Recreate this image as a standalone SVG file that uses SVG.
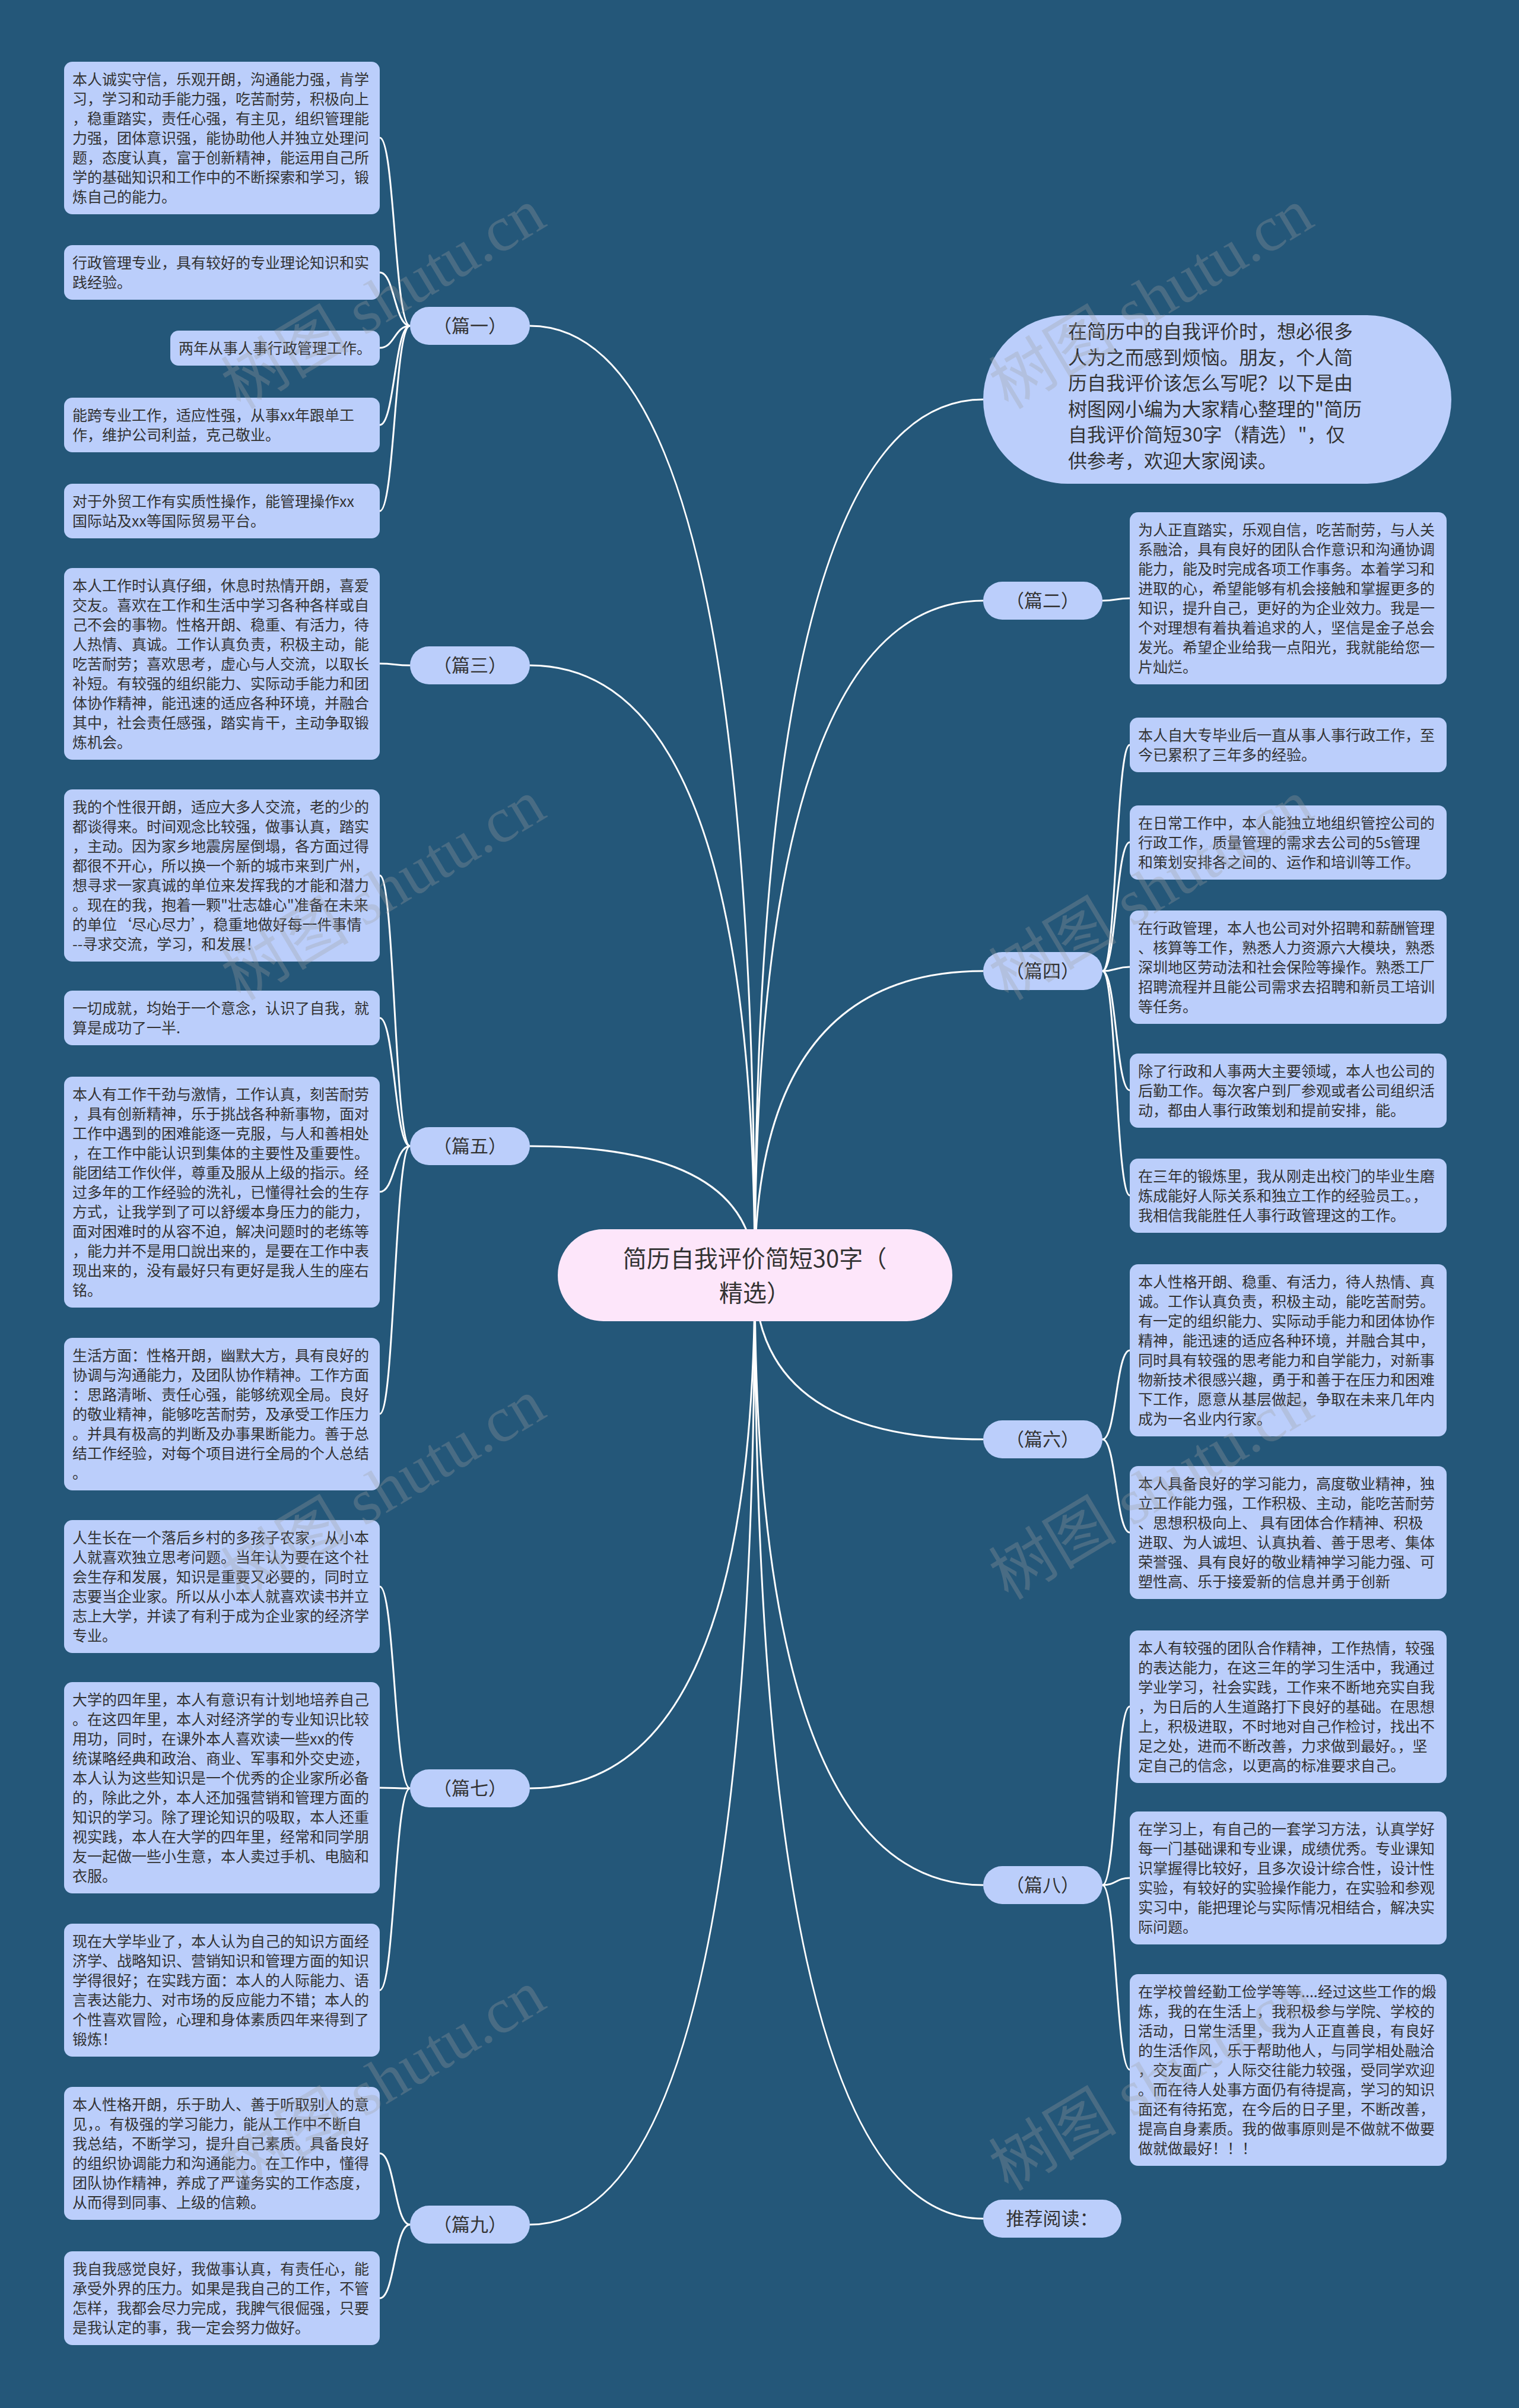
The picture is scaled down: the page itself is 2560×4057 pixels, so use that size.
<svg xmlns="http://www.w3.org/2000/svg" width="2560" height="4057" viewBox="0 0 2560 4057">
<style>
.bg{fill:#245779}
.box{fill:#bbcefb}
.lbl{fill:#bbcefb}
.t{font-family:"Noto Sans CJK SC","Noto Sans",sans-serif;font-size:25px;fill:#333}
.lt{font-family:"Noto Sans CJK SC","Noto Sans",sans-serif;font-size:31px;fill:#333;text-anchor:middle}
.ct{font-family:"Noto Sans CJK SC","Noto Sans",sans-serif;font-size:40px;fill:#333;text-anchor:middle}
.it{font-family:"Noto Sans CJK SC","Noto Sans",sans-serif;font-size:32px;fill:#333}
.c{fill:none;stroke:#ffffff;stroke-width:3}
.wm{font-family:"Liberation Serif","Noto Sans CJK SC",serif;font-size:108px;fill:#a0a0a0;fill-opacity:0.3;text-anchor:middle}
</style>
<rect class="bg" x="0" y="0" width="2560" height="4057"/>
<g id="connectors">
<path class="c" d="M1272 2148 Q1272 673 1657 673"/>
<path class="c" d="M1272 2148 Q1272 549 893 549"/>
<path class="c" d="M1272 2148 Q1272 1121 893 1121"/>
<path class="c" d="M1272 2148 Q1272 1931 893 1931"/>
<path class="c" d="M1272 2148 Q1272 3013 893 3013"/>
<path class="c" d="M1272 2148 Q1272 3748 893 3748"/>
<path class="c" d="M1272 2148 Q1272 1012 1657 1012"/>
<path class="c" d="M1272 2148 Q1272 1636 1657 1636"/>
<path class="c" d="M1272 2148 Q1272 2425 1657 2425"/>
<path class="c" d="M1272 2148 Q1272 3176 1657 3176"/>
<path class="c" d="M1272 2148 Q1272 3738 1657 3738"/>
<path class="c" d="M691 549 C665 549 665 232 640 232"/>
<path class="c" d="M691 549 C665 549 665 459 640 459"/>
<path class="c" d="M691 549 C665 549 665 586 640 586"/>
<path class="c" d="M691 549 C665 549 665 716 640 716"/>
<path class="c" d="M691 549 C665 549 665 861 640 861"/>
<path class="c" d="M691 1121 C665 1121 665 1118 640 1118"/>
<path class="c" d="M691 1931 C665 1931 665 1475 640 1475"/>
<path class="c" d="M691 1931 C665 1931 665 1715 640 1715"/>
<path class="c" d="M691 1931 C665 1931 665 2008 640 2008"/>
<path class="c" d="M691 1931 C665 1931 665 2382 640 2382"/>
<path class="c" d="M691 3013 C665 3013 665 2673 640 2673"/>
<path class="c" d="M691 3013 C665 3013 665 3012 640 3012"/>
<path class="c" d="M691 3013 C665 3013 665 3353 640 3353"/>
<path class="c" d="M691 3748 C665 3748 665 3628 640 3628"/>
<path class="c" d="M691 3748 C665 3748 665 3872 640 3872"/>
<path class="c" d="M1858 1012 C1881 1012 1881 1008 1904 1008"/>
<path class="c" d="M1858 1636 C1881 1636 1881 1255 1904 1255"/>
<path class="c" d="M1858 1636 C1881 1636 1881 1419 1904 1419"/>
<path class="c" d="M1858 1636 C1881 1636 1881 1629 1904 1629"/>
<path class="c" d="M1858 1636 C1881 1636 1881 1837 1904 1837"/>
<path class="c" d="M1858 1636 C1881 1636 1881 2014 1904 2014"/>
<path class="c" d="M1858 2425 C1881 2425 1881 2275 1904 2275"/>
<path class="c" d="M1858 2425 C1881 2425 1881 2582 1904 2582"/>
<path class="c" d="M1858 3176 C1881 3176 1881 2875 1904 2875"/>
<path class="c" d="M1858 3176 C1881 3176 1881 3164 1904 3164"/>
<path class="c" d="M1858 3176 C1881 3176 1881 3487 1904 3487"/>
</g>
<g id="center">
<rect x="940" y="2071" width="665" height="155" rx="77" fill="#fde6fa"/>
<text class="ct" x="1272" y="2135">简历自我评价简短30字（</text>
<text class="ct" x="1272" y="2193">精选）</text>
</g>
<g id="intro">
<rect class="box" x="1657" y="531" width="789" height="284" rx="142"/>
<text class="it" x="1800" y="570"><tspan x="1800">在简历中的自我评价时，想必很多</tspan><tspan x="1800" dy="43.5">人为之而感到烦恼。朋友，个人简</tspan><tspan x="1800" dy="43.5">历自我评价该怎么写呢？以下是由</tspan><tspan x="1800" dy="43.5">树图网小编为大家精心整理的"简历</tspan><tspan x="1800" dy="43.5">自我评价简短30字（精选）"，仅</tspan><tspan x="1800" dy="43.5">供参考，欢迎大家阅读。</tspan></text>
</g>
<g id="label-p1"><rect class="lbl" x="691" y="517" width="202" height="64" rx="32"/><text class="lt" x="792" y="560">（篇一）</text></g>
<g id="label-p3"><rect class="lbl" x="691" y="1089" width="202" height="64" rx="32"/><text class="lt" x="792" y="1132">（篇三）</text></g>
<g id="label-p5"><rect class="lbl" x="691" y="1899" width="202" height="64" rx="32"/><text class="lt" x="792" y="1942">（篇五）</text></g>
<g id="label-p7"><rect class="lbl" x="691" y="2981" width="202" height="64" rx="32"/><text class="lt" x="792" y="3024">（篇七）</text></g>
<g id="label-p9"><rect class="lbl" x="691" y="3716" width="202" height="64" rx="32"/><text class="lt" x="792" y="3759">（篇九）</text></g>
<g id="label-p2"><rect class="lbl" x="1657" y="980" width="201" height="64" rx="32"/><text class="lt" x="1757" y="1023">（篇二）</text></g>
<g id="label-p4"><rect class="lbl" x="1657" y="1604" width="201" height="64" rx="32"/><text class="lt" x="1757" y="1647">（篇四）</text></g>
<g id="label-p6"><rect class="lbl" x="1657" y="2393" width="201" height="64" rx="32"/><text class="lt" x="1757" y="2436">（篇六）</text></g>
<g id="label-p8"><rect class="lbl" x="1657" y="3144" width="201" height="64" rx="32"/><text class="lt" x="1757" y="3187">（篇八）</text></g>
<g id="label-rec"><rect class="lbl" x="1657" y="3706" width="233" height="64" rx="32"/><text class="lt" x="1773" y="3749">推荐阅读：</text></g>
<g id="p1-a"><rect class="box" x="108" y="104" width="532" height="257" rx="14"/>
<text class="t" x="122" y="143"><tspan x="122">本人诚实守信，乐观开朗，沟通能力强，肯学</tspan><tspan x="122" dy="33">习，学习和动手能力强，吃苦耐劳，积极向上</tspan><tspan x="122" dy="33">，稳重踏实，责任心强，有主见，组织管理能</tspan><tspan x="122" dy="33">力强，团体意识强，能协助他人并独立处理问</tspan><tspan x="122" dy="33">题，态度认真，富于创新精神，能运用自己所</tspan><tspan x="122" dy="33">学的基础知识和工作中的不断探索和学习，锻</tspan><tspan x="122" dy="33">炼自己的能力。</tspan></text></g>
<g id="p1-b"><rect class="box" x="108" y="413" width="532" height="92" rx="14"/>
<text class="t" x="122" y="452"><tspan x="122">行政管理专业，具有较好的专业理论知识和实</tspan><tspan x="122" dy="33">践经验。</tspan></text></g>
<g id="p1-c"><rect class="box" x="287" y="557" width="353" height="59" rx="14"/>
<text class="t" x="301" y="596">两年从事人事行政管理工作。</text></g>
<g id="p1-d"><rect class="box" x="108" y="670" width="532" height="92" rx="14"/>
<text class="t" x="122" y="709"><tspan x="122">能跨专业工作，适应性强，从事xx年跟单工</tspan><tspan x="122" dy="33">作，维护公司利益，克己敬业。</tspan></text></g>
<g id="p1-e"><rect class="box" x="108" y="815" width="532" height="92" rx="14"/>
<text class="t" x="122" y="854"><tspan x="122">对于外贸工作有实质性操作，能管理操作xx</tspan><tspan x="122" dy="33">国际站及xx等国际贸易平台。</tspan></text></g>
<g id="p3-a"><rect class="box" x="108" y="957" width="532" height="323" rx="14"/>
<text class="t" x="122" y="996"><tspan x="122">本人工作时认真仔细，休息时热情开朗，喜爱</tspan><tspan x="122" dy="33">交友。喜欢在工作和生活中学习各种各样或自</tspan><tspan x="122" dy="33">己不会的事物。性格开朗、稳重、有活力，待</tspan><tspan x="122" dy="33">人热情、真诚。工作认真负责，积极主动，能</tspan><tspan x="122" dy="33">吃苦耐劳；喜欢思考，虚心与人交流，以取长</tspan><tspan x="122" dy="33">补短。有较强的组织能力、实际动手能力和团</tspan><tspan x="122" dy="33">体协作精神，能迅速的适应各种环境，并融合</tspan><tspan x="122" dy="33">其中，社会责任感强，踏实肯干，主动争取锻</tspan><tspan x="122" dy="33">炼机会。</tspan></text></g>
<g id="p5-a"><rect class="box" x="108" y="1330" width="532" height="290" rx="14"/>
<text class="t" x="122" y="1369"><tspan x="122">我的个性很开朗，适应大多人交流，老的少的</tspan><tspan x="122" dy="33">都谈得来。时间观念比较强，做事认真，踏实</tspan><tspan x="122" dy="33">，主动。因为家乡地震房屋倒塌，各方面过得</tspan><tspan x="122" dy="33">都很不开心，所以换一个新的城市来到广州，</tspan><tspan x="122" dy="33">想寻求一家真诚的单位来发挥我的才能和潜力</tspan><tspan x="122" dy="33">。现在的我，抱着一颗"壮志雄心"准备在未来</tspan><tspan x="122" dy="33">的单位‘尽心尽力’，稳重地做好每一件事情</tspan><tspan x="122" dy="33">--寻求交流，学习，和发展！</tspan></text></g>
<g id="p5-b"><rect class="box" x="108" y="1669" width="532" height="92" rx="14"/>
<text class="t" x="122" y="1708"><tspan x="122">一切成就，均始于一个意念，认识了自我，就</tspan><tspan x="122" dy="33">算是成功了一半.</tspan></text></g>
<g id="p5-c"><rect class="box" x="108" y="1814" width="532" height="389" rx="14"/>
<text class="t" x="122" y="1853"><tspan x="122">本人有工作干劲与激情，工作认真，刻苦耐劳</tspan><tspan x="122" dy="33">，具有创新精神，乐于挑战各种新事物，面对</tspan><tspan x="122" dy="33">工作中遇到的困难能逐一克服，与人和善相处</tspan><tspan x="122" dy="33">，在工作中能认识到集体的主要性及重要性。</tspan><tspan x="122" dy="33">能团结工作伙伴，尊重及服从上级的指示。经</tspan><tspan x="122" dy="33">过多年的工作经验的洗礼，已懂得社会的生存</tspan><tspan x="122" dy="33">方式，让我学到了可以舒缓本身压力的能力，</tspan><tspan x="122" dy="33">面对困难时的从容不迫，解决问题时的老练等</tspan><tspan x="122" dy="33">，能力并不是用口說出来的，是要在工作中表</tspan><tspan x="122" dy="33">现出来的，没有最好只有更好是我人生的座右</tspan><tspan x="122" dy="33">铭。</tspan></text></g>
<g id="p5-d"><rect class="box" x="108" y="2254" width="532" height="257" rx="14"/>
<text class="t" x="122" y="2293"><tspan x="122">生活方面：性格开朗，幽默大方，具有良好的</tspan><tspan x="122" dy="33">协调与沟通能力，及团队协作精神。工作方面</tspan><tspan x="122" dy="33">：思路清晰、责任心强，能够统观全局。良好</tspan><tspan x="122" dy="33">的敬业精神，能够吃苦耐劳，及承受工作压力</tspan><tspan x="122" dy="33">。并具有极高的判断及办事果断能力。善于总</tspan><tspan x="122" dy="33">结工作经验，对每个项目进行全局的个人总结</tspan><tspan x="122" dy="33">。</tspan></text></g>
<g id="p7-a"><rect class="box" x="108" y="2561" width="532" height="224" rx="14"/>
<text class="t" x="122" y="2600"><tspan x="122">人生长在一个落后乡村的多孩子农家，从小本</tspan><tspan x="122" dy="33">人就喜欢独立思考问题。当年认为要在这个社</tspan><tspan x="122" dy="33">会生存和发展，知识是重要又必要的，同时立</tspan><tspan x="122" dy="33">志要当企业家。所以从小本人就喜欢读书并立</tspan><tspan x="122" dy="33">志上大学，并读了有利于成为企业家的经济学</tspan><tspan x="122" dy="33">专业。</tspan></text></g>
<g id="p7-b"><rect class="box" x="108" y="2834" width="532" height="356" rx="14"/>
<text class="t" x="122" y="2873"><tspan x="122">大学的四年里，本人有意识有计划地培养自己</tspan><tspan x="122" dy="33">。在这四年里，本人对经济学的专业知识比较</tspan><tspan x="122" dy="33">用功，同时，在课外本人喜欢读一些xx的传</tspan><tspan x="122" dy="33">统谋略经典和政治、商业、军事和外交史迹，</tspan><tspan x="122" dy="33">本人认为这些知识是一个优秀的企业家所必备</tspan><tspan x="122" dy="33">的，除此之外，本人还加强营销和管理方面的</tspan><tspan x="122" dy="33">知识的学习。除了理论知识的吸取，本人还重</tspan><tspan x="122" dy="33">视实践，本人在大学的四年里，经常和同学朋</tspan><tspan x="122" dy="33">友一起做一些小生意，本人卖过手机、电脑和</tspan><tspan x="122" dy="33">衣服。</tspan></text></g>
<g id="p7-c"><rect class="box" x="108" y="3241" width="532" height="224" rx="14"/>
<text class="t" x="122" y="3280"><tspan x="122">现在大学毕业了，本人认为自己的知识方面经</tspan><tspan x="122" dy="33">济学、战略知识、营销知识和管理方面的知识</tspan><tspan x="122" dy="33">学得很好；在实践方面：本人的人际能力、语</tspan><tspan x="122" dy="33">言表达能力、对市场的反应能力不错；本人的</tspan><tspan x="122" dy="33">个性喜欢冒险，心理和身体素质四年来得到了</tspan><tspan x="122" dy="33">锻炼！</tspan></text></g>
<g id="p9-a"><rect class="box" x="108" y="3516" width="532" height="224" rx="14"/>
<text class="t" x="122" y="3555"><tspan x="122">本人性格开朗，乐于助人、善于听取别人的意</tspan><tspan x="122" dy="33">见，。有极强的学习能力，能从工作中不断自</tspan><tspan x="122" dy="33">我总结，不断学习，提升自己素质。具备良好</tspan><tspan x="122" dy="33">的组织协调能力和沟通能力。在工作中，懂得</tspan><tspan x="122" dy="33">团队协作精神，养成了严谨务实的工作态度，</tspan><tspan x="122" dy="33">从而得到同事、上级的信赖。</tspan></text></g>
<g id="p9-b"><rect class="box" x="108" y="3793" width="532" height="158" rx="14"/>
<text class="t" x="122" y="3832"><tspan x="122">我自我感觉良好，我做事认真，有责任心，能</tspan><tspan x="122" dy="33">承受外界的压力。如果是我自己的工作，不管</tspan><tspan x="122" dy="33">怎样，我都会尽力完成，我脾气很倔强，只要</tspan><tspan x="122" dy="33">是我认定的事，我一定会努力做好。</tspan></text></g>
<g id="p2-a"><rect class="box" x="1904" y="863" width="534" height="290" rx="14"/>
<text class="t" x="1918" y="902"><tspan x="1918">为人正直踏实，乐观自信，吃苦耐劳，与人关</tspan><tspan x="1918" dy="33">系融洽，具有良好的团队合作意识和沟通协调</tspan><tspan x="1918" dy="33">能力，能及时完成各项工作事务。本着学习和</tspan><tspan x="1918" dy="33">进取的心，希望能够有机会接触和掌握更多的</tspan><tspan x="1918" dy="33">知识，提升自己，更好的为企业效力。我是一</tspan><tspan x="1918" dy="33">个对理想有着执着追求的人，坚信是金子总会</tspan><tspan x="1918" dy="33">发光。希望企业给我一点阳光，我就能给您一</tspan><tspan x="1918" dy="33">片灿烂。</tspan></text></g>
<g id="p4-a"><rect class="box" x="1904" y="1209" width="534" height="92" rx="14"/>
<text class="t" x="1918" y="1248"><tspan x="1918">本人自大专毕业后一直从事人事行政工作，至</tspan><tspan x="1918" dy="33">今已累积了三年多的经验。</tspan></text></g>
<g id="p4-b"><rect class="box" x="1904" y="1357" width="534" height="125" rx="14"/>
<text class="t" x="1918" y="1396"><tspan x="1918">在日常工作中，本人能独立地组织管控公司的</tspan><tspan x="1918" dy="33">行政工作，质量管理的需求去公司的5s管理</tspan><tspan x="1918" dy="33">和策划安排各之间的、运作和培训等工作。</tspan></text></g>
<g id="p4-c"><rect class="box" x="1904" y="1534" width="534" height="191" rx="14"/>
<text class="t" x="1918" y="1573"><tspan x="1918">在行政管理，本人也公司对外招聘和薪酬管理</tspan><tspan x="1918" dy="33">、核算等工作，熟悉人力资源六大模块，熟悉</tspan><tspan x="1918" dy="33">深圳地区劳动法和社会保险等操作。熟悉工厂</tspan><tspan x="1918" dy="33">招聘流程并且能公司需求去招聘和新员工培训</tspan><tspan x="1918" dy="33">等任务。</tspan></text></g>
<g id="p4-d"><rect class="box" x="1904" y="1775" width="534" height="125" rx="14"/>
<text class="t" x="1918" y="1814"><tspan x="1918">除了行政和人事两大主要领域，本人也公司的</tspan><tspan x="1918" dy="33">后勤工作。每次客户到厂参观或者公司组织活</tspan><tspan x="1918" dy="33">动，都由人事行政策划和提前安排，能。</tspan></text></g>
<g id="p4-e"><rect class="box" x="1904" y="1952" width="534" height="125" rx="14"/>
<text class="t" x="1918" y="1991"><tspan x="1918">在三年的锻炼里，我从刚走出校门的毕业生磨</tspan><tspan x="1918" dy="33">炼成能好人际关系和独立工作的经验员工。，</tspan><tspan x="1918" dy="33">我相信我能胜任人事行政管理这的工作。</tspan></text></g>
<g id="p6-a"><rect class="box" x="1904" y="2130" width="534" height="290" rx="14"/>
<text class="t" x="1918" y="2169"><tspan x="1918">本人性格开朗、稳重、有活力，待人热情、真</tspan><tspan x="1918" dy="33">诚。工作认真负责，积极主动，能吃苦耐劳。</tspan><tspan x="1918" dy="33">有一定的组织能力、实际动手能力和团体协作</tspan><tspan x="1918" dy="33">精神，能迅速的适应各种环境，并融合其中，</tspan><tspan x="1918" dy="33">同时具有较强的思考能力和自学能力，对新事</tspan><tspan x="1918" dy="33">物新技术很感兴趣，勇于和善于在压力和困难</tspan><tspan x="1918" dy="33">下工作，愿意从基层做起，争取在未来几年内</tspan><tspan x="1918" dy="33">成为一名业内行家。</tspan></text></g>
<g id="p6-b"><rect class="box" x="1904" y="2470" width="534" height="224" rx="14"/>
<text class="t" x="1918" y="2509"><tspan x="1918">本人具备良好的学习能力，高度敬业精神，独</tspan><tspan x="1918" dy="33">立工作能力强，工作积极、主动，能吃苦耐劳</tspan><tspan x="1918" dy="33">、思想积极向上、 具有团体合作精神、积极</tspan><tspan x="1918" dy="33">进取、为人诚坦、认真执着、善于思考、集体</tspan><tspan x="1918" dy="33">荣誉强、具有良好的敬业精神学习能力强、可</tspan><tspan x="1918" dy="33">塑性高、乐于接爱新的信息并勇于创新</tspan></text></g>
<g id="p8-a"><rect class="box" x="1904" y="2747" width="534" height="257" rx="14"/>
<text class="t" x="1918" y="2786"><tspan x="1918">本人有较强的团队合作精神，工作热情，较强</tspan><tspan x="1918" dy="33">的表达能力，在这三年的学习生活中，我通过</tspan><tspan x="1918" dy="33">学业学习，社会实践，工作来不断地充实自我</tspan><tspan x="1918" dy="33">，为日后的人生道路打下良好的基础。在思想</tspan><tspan x="1918" dy="33">上，积极进取，不时地对自己作检讨，找出不</tspan><tspan x="1918" dy="33">足之处，进而不断改善，力求做到最好。，坚</tspan><tspan x="1918" dy="33">定自己的信念，以更高的标准要求自己。</tspan></text></g>
<g id="p8-b"><rect class="box" x="1904" y="3052" width="534" height="224" rx="14"/>
<text class="t" x="1918" y="3091"><tspan x="1918">在学习上，有自己的一套学习方法，认真学好</tspan><tspan x="1918" dy="33">每一门基础课和专业课，成绩优秀。专业课知</tspan><tspan x="1918" dy="33">识掌握得比较好，且多次设计综合性，设计性</tspan><tspan x="1918" dy="33">实验，有较好的实验操作能力，在实验和参观</tspan><tspan x="1918" dy="33">实习中，能把理论与实际情况相结合，解决实</tspan><tspan x="1918" dy="33">际问题。</tspan></text></g>
<g id="p8-c"><rect class="box" x="1904" y="3326" width="534" height="323" rx="14"/>
<text class="t" x="1918" y="3365"><tspan x="1918">在学校曾经勤工俭学等等....经过这些工作的煅</tspan><tspan x="1918" dy="33">炼，我的在生活上，我积极参与学院、学校的</tspan><tspan x="1918" dy="33">活动，日常生活里，我为人正直善良，有良好</tspan><tspan x="1918" dy="33">的生活作风，乐于帮助他人，与同学相处融洽</tspan><tspan x="1918" dy="33">，交友面广，人际交往能力较强，受同学欢迎</tspan><tspan x="1918" dy="33">。而在待人处事方面仍有待提高，学习的知识</tspan><tspan x="1918" dy="33">面还有待拓宽，在今后的日子里，不断改善，</tspan><tspan x="1918" dy="33">提高自身素质。我的做事原则是不做就不做要</tspan><tspan x="1918" dy="33">做就做最好！！！</tspan></text></g>
<g id="watermarks">
<text class="wm" x="647" y="540" transform="rotate(-31 647 505)">树图 shutu.cn</text>
<text class="wm" x="1941" y="540" transform="rotate(-31 1941 505)">树图 shutu.cn</text>
<text class="wm" x="647" y="1536" transform="rotate(-31 647 1501)">树图 shutu.cn</text>
<text class="wm" x="1941" y="1536" transform="rotate(-31 1941 1501)">树图 shutu.cn</text>
<text class="wm" x="647" y="2546" transform="rotate(-31 647 2511)">树图 shutu.cn</text>
<text class="wm" x="1941" y="2546" transform="rotate(-31 1941 2511)">树图 shutu.cn</text>
<text class="wm" x="647" y="3542" transform="rotate(-31 647 3507)">树图 shutu.cn</text>
<text class="wm" x="1941" y="3542" transform="rotate(-31 1941 3507)">树图 shutu.cn</text>
</g>
</svg>
